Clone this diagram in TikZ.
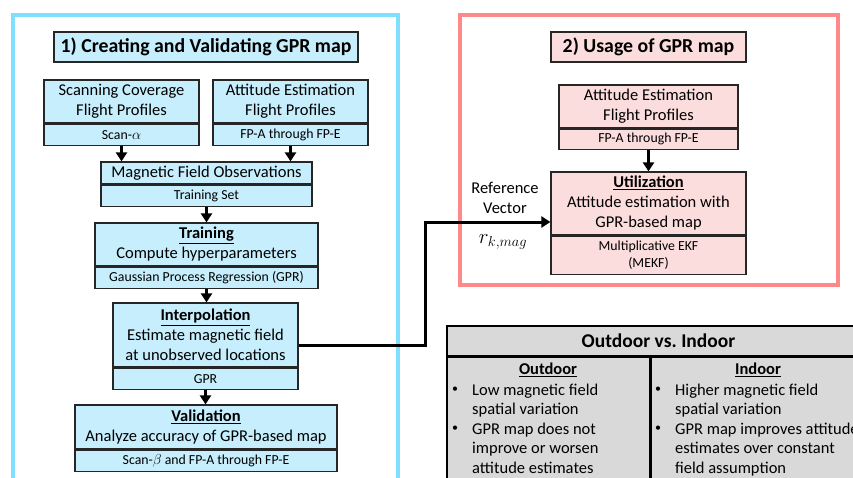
\documentclass[tikz,border=0pt]{standalone}
\usepackage{fontspec}
\setmainfont{Carlito}
\usetikzlibrary{positioning, arrows.meta}

\definecolor{mapblue}{RGB}{128,222,255}
\definecolor{mapred}{RGB}{255,136,136}
\definecolor{boxblue}{RGB}{199,238,252}
\definecolor{boxpink}{RGB}{252,221,221}
\definecolor{tabgray}{RGB}{217,217,217}

\tikzset{
    stage/.style={draw=black!85, line width=1.2pt, fill=boxblue, align=center, inner sep=0pt,
        font=\fontsize{16.5}{20}\selectfont},
    detail/.style={stage, font=\fontsize{13.8}{17}\selectfont},
    heading/.style={stage, font=\bfseries\fontsize{19.8}{23}\selectfont},
    flow/.style={line width=3pt, -{Triangle[length=9pt, width=11pt]}},
    frame/.style={line width=4pt},
    plain/.style={align=center, inner sep=0pt, font=\fontsize{16.5}{19.5}\selectfont},
    itemtxt/.style={plain, align=left, anchor=base west},
}

\begin{document}
\begin{tikzpicture}[x=1pt, y=-1pt]
    \useasboundingbox (0,0) rectangle (853,477);

    % Part 1: building the map
    \draw[frame, mapblue] (13,480) -- (13,15) -- (398,15) -- (398,480);
    \node[heading, minimum width=304, minimum height=30] (title1) at (206,47) {1) Creating and Validating GPR map};

    \node[stage, minimum width=155, minimum height=43] (scan) at (121.5,101.5) {Scanning Coverage\\Flight Profiles};
    \node[detail, minimum width=155, minimum height=21, below=0pt of scan] (scanlbl) {Scan-$\alpha$};
    \node[stage, minimum width=155, minimum height=43] (att) at (290.5,101.5) {Attitude Estimation\\Flight Profiles};
    \node[detail, minimum width=155, minimum height=21, below=0pt of att] (attlbl) {FP-A through FP-E};

    \node[stage, minimum width=211, minimum height=22] (mag) at (206.5,173) {Magnetic Field Observations};
    \node[detail, minimum width=211, minimum height=21, below=0pt of mag] (maglbl) {Training Set};

    \node[stage, minimum width=223, minimum height=43] (train) at (206.5,244.5) {\underline{\textbf{Training}}\\Compute hyperparameters};
    \node[detail, minimum width=223, minimum height=21, below=0pt of train] (trainlbl) {Gaussian Process Regression (GPR)};

    \node[stage, minimum width=185, minimum height=64] (interp) at (205.5,335) {\underline{\textbf{Interpolation}}\\Estimate magnetic field\\at unobserved locations};
    \node[detail, minimum width=185, minimum height=21, below=0pt of interp] (interplbl) {GPR};

    \node[stage, minimum width=262, minimum height=44] (valid) at (206,427) {\underline{\textbf{Validation}}\\Analyze accuracy of GPR-based map};
    \node[detail, minimum width=262, minimum height=21, below=0pt of valid] (validlbl) {Scan-$\beta$ and FP-A through FP-E};

    % Arrows
    \draw[flow] (scanlbl.south) -- (scanlbl.south |- mag.north);
    \draw[flow] (attlbl.south) -- (attlbl.south |- mag.north);
    \foreach \a/\b in {maglbl/train, trainlbl/interp, interplbl/valid}
    \draw[flow] (\a.south) -- (\a.south |- \b.north);

    % Part 2: using the map
    \draw[frame, mapred] (460,15) rectangle (838,285);
    \node[heading, fill=boxpink, minimum width=195, minimum height=30] (title2) at (648.5,47) {2) Usage of GPR map};

    \node[stage, fill=boxpink, minimum width=179, minimum height=43] (att2) at (648.5,106.5) {Attitude Estimation\\Flight Profiles};
    \node[detail, fill=boxpink, minimum width=179, minimum height=20, below=0pt of att2] (att2lbl) {FP-A through FP-E};

    \node[stage, fill=boxpink, minimum width=195, minimum height=63] (util) at (648.5,203.5) {\underline{\textbf{Utilization}}\\Attitude estimation with\\GPR-based map};
    \node[detail, fill=boxpink, minimum width=195, minimum height=38, below=0pt of util] (utillbl) {Multiplicative EKF\\(MEKF)};

    \draw[flow] (att2lbl.south) -- (att2lbl.south |- util.north);

    \node[plain] (refvec) at (505,198) {Reference\\Vector};
    \node[plain, font=\fontsize{22}{24}\selectfont] (rmag) at (503,242) {$r_{k,mag}$};

    % map handed over to the filter
    \coordinate (bend) at (425,222);
    \draw[flow] ([yshift=-10pt]interp.east) -| (bend) -- (util.west |- bend);

    % Comparison table
    \node[draw, line width=1.2pt, fill=tabgray, minimum width=423, minimum height=30,
        font=\bfseries\fontsize{19.5}{22}\selectfont] (cmp) at (658.5,341) {Outdoor vs.\ Indoor};
    \node[draw, line width=1.2pt, fill=tabgray, minimum width=203, minimum height=134, anchor=north west] (outcol) at (cmp.south west) {};
    \node[draw, line width=1.2pt, fill=tabgray, minimum width=220, minimum height=134, anchor=north west] (incol) at (outcol.north east) {};

    \node[plain] (outhead) at (548,370) {\underline{\textbf{Outdoor}}};
    \node[plain] (inhead) at (758,370) {\underline{\textbf{Indoor}}};

    \foreach \x/\y in {455/390, 455/429, 658/390, 658/429}
    \node[plain, font=\fontsize{12}{12}\selectfont] (bul-\x-\y) at (\x,\y) {\textbullet};

    % base anchor sits on the last line
    \node[itemtxt] (out1) at (472,414.5) {Low magnetic field\\spatial variation};
    \node[itemtxt] (out2) at (472,473) {GPR map does not\\improve or worsen\\attitude estimates};
    \node[itemtxt] (in1) at (675,414.5) {Higher magnetic field\\spatial variation};
    \node[itemtxt] (in2) at (675,473) {GPR map improves attitude\\estimates over constant\\field assumption};

\end{tikzpicture}
\end{document}
